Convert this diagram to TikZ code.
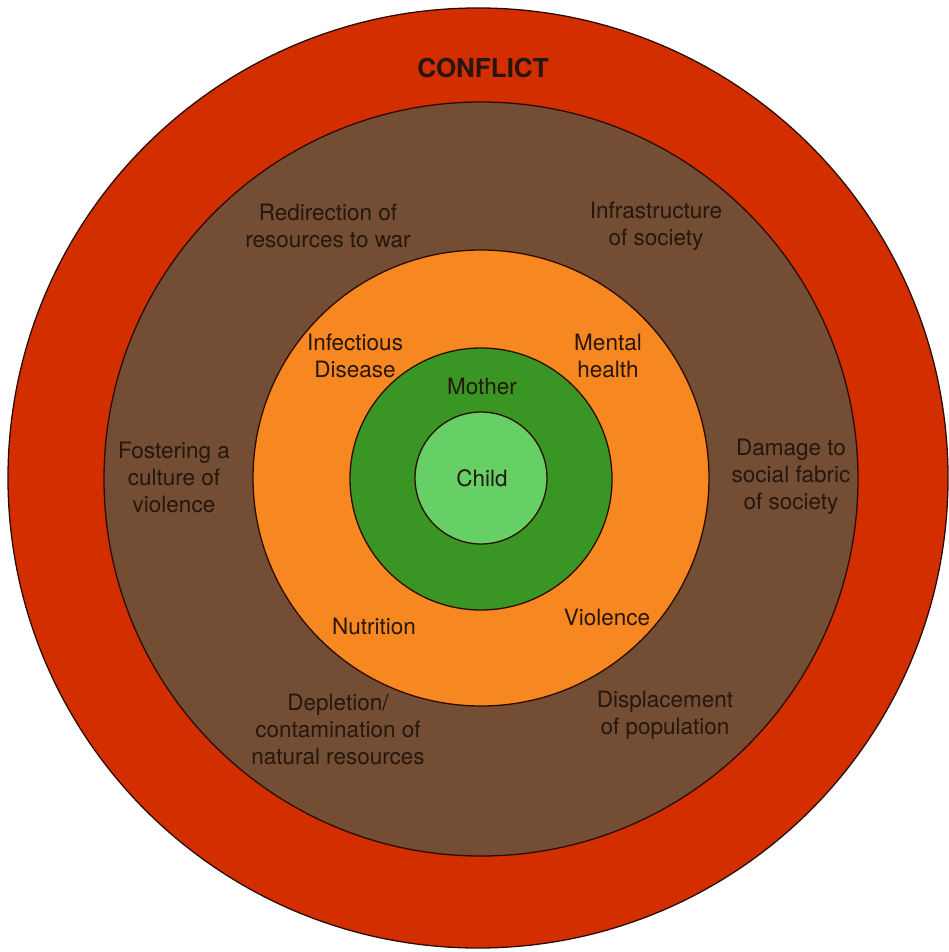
\documentclass[tikz,border=0pt]{standalone}
\usepackage{fontspec}
\setmainfont{TeX Gyre Heros}
\usetikzlibrary{positioning}
\definecolor{conflictred}{RGB}{211,46,0}
\definecolor{societybrown}{RGB}{115,77,52}
\definecolor{healthorange}{RGB}{247,135,32}
\definecolor{motherdark}{RGB}{58,150,36}
\definecolor{childlight}{RGB}{102,208,102}
\definecolor{labeltext}{RGB}{38,22,12}
\definecolor{ringline}{RGB}{45,12,0}

\begin{document}
\begin{tikzpicture}[x=1pt,y=-1pt,
		ring node/.style={circle,draw=ringline,line width=1.3pt,inner sep=0pt},
		text node/.style={align=center,text=labeltext,inner sep=0pt,
			font=\fontsize{22.5}{27}\selectfont}]
	
	\useasboundingbox (0,0) rectangle (949,952);
	
	% the rings, from outside in
	\node[ring node,fill=conflictred,minimum size=940pt] (conflict) at (478,478) {};
	\node[ring node,fill=societybrown,minimum size=754pt] (society) at (481,479) {};
	\node[ring node,fill=healthorange,minimum size=456pt] (health) at (481,478) {};
	\node[ring node,fill=motherdark,minimum size=262pt] (mother) at (481,479) {};
	\node[ring node,fill=childlight,minimum size=132pt] (child) at (481,478) {};
	
	\node[text node,font=\fontsize{26}{30}\selectfont\bfseries] (conflictlabel) at (483,68) {CONFLICT};
	
	\node[text node] (redirect) at (328,226) {Redirection of\\resources to war};
	\node[text node] (infra) at (656,226) {Infrastructure\\of society};
	\node[text node] (foster) at (174,477) {Fostering a\\culture of\\violence};
	\node[text node] (damage) at (791,477) {Damage to\\social fabric\\of society};
	\node[text node] (deplete) at (338,729) {Depletion/\\contamination of\\natural resources};
	\node[text node] (displace) at (665,715) {Displacement\\of population};
	
	\node[text node] (infect) at (355,356) {Infectious\\Disease};
	\node[text node] (mental) at (608,356) {Mental\\health};
	\node[text node] (nutrition) at (374,626) {Nutrition};
	\node[text node] (violence) at (607,617) {Violence};
	
	\node[text node] (motherlabel) at (482,386) {Mother};
	\node[text node] (childlabel) at (482,478) {Child};
	
\end{tikzpicture}
\end{document}
